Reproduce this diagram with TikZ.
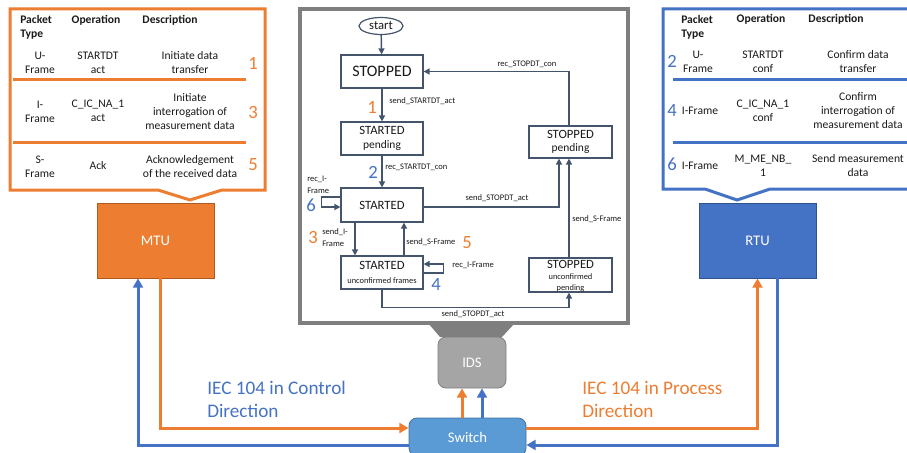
\documentclass[tikz,border=0pt]{standalone}
\usepackage{fontspec}
\setmainfont{Carlito}
\usetikzlibrary{arrows.meta,calc,shapes.geometric}

\definecolor{orangeA}{HTML}{ED7D31}
\definecolor{orangeD}{HTML}{AE5A21}
\definecolor{blueA}{HTML}{4472C4}
\definecolor{blueD}{HTML}{2F528F}
\definecolor{blueS}{HTML}{5B9BD5}
\definecolor{blueSD}{HTML}{41719C}
\definecolor{grayF}{HTML}{7F7F7F}
\definecolor{grayI}{HTML}{A5A5A5}
\definecolor{slate}{HTML}{44546A}
\definecolor{ink}{HTML}{1A1A1A}

\begin{document}
\begin{tikzpicture}[x=0.75pt,y=-0.75pt,
  % table cells
  cell/.style={font=\fontsize{8.7}{10.5}\selectfont, align=center, inner sep=0pt, text=ink},
  head/.style={font=\fontsize{8.7}{10.5}\selectfont\bfseries, inner sep=0pt, text=ink},
  num/.style={font=\fontsize{14}{14}\selectfont, inner sep=0pt},
  % state machine
  state/.style={draw=slate, line width=0.9pt, fill=white, inner sep=0pt, align=center,
                minimum width=61.5pt, minimum height=24.75pt, text=ink},
  big/.style={font=\fontsize{12}{14}\selectfont},
  mid/.style={font=\fontsize{9.5}{11}\selectfont},
  lbl/.style={font=\fontsize{6.4}{8.5}\selectfont, inner sep=0pt, text=ink},
  sm/.style={draw=slate, line width=1.1pt, -{Triangle[length=4.5pt,width=4.5pt]}},
  % devices and links
  dev/.style={inner sep=0pt, text=white, font=\fontsize{11}{13}\selectfont,
              minimum width=87.75pt, minimum height=56.25pt},
  link/.style={line width=2.25pt, -{Triangle[length=7pt,width=7.5pt]}},
  callout/.style={line width=2.25pt, line join=miter}
]
\useasboundingbox (0,0) rectangle (907,453);
\clip (0,0) rectangle (907,453);

% ---------- MTU message table ----------
\draw[callout, orangeA] (10,9) -- (265,9) -- (265,190) -- (222,190) -- (190,200)
  -- (158,190) -- (10,190) -- cycle;
\draw[orangeA, line width=2.25pt] (13,80) -- (246,80);
\draw[orangeA, line width=2.25pt] (13,142) -- (246,142);
\node[head, anchor=west, align=left] (mh1) at (20,27) {Packet\\Type};
\node[head] (mh2) at (96,20) {Operation};
\node[head] (mh3) at (170,20) {Description};
\node[cell] (ma1) at (40,63) {U-\\Frame};
\node[cell] (ma2) at (98,63) {STARTDT\\act};
\node[cell] (ma3) at (190,63) {Initiate data\\transfer};
\node[cell] (mb1) at (40,112) {I-\\Frame};
\node[cell] (mb2) at (98,111) {C\_IC\_NA\_1\\act};
\node[cell] (mb3) at (190,112) {Initiate\\interrogation of\\measurement data};
\node[cell] (mc1) at (40,166.5) {S-\\Frame};
\node[cell] (mc2) at (98,166) {Ack};
\node[cell] (mc3) at (190,166.5) {Acknowledgement\\of the received data};
\node[num, text=orangeA] (mn1) at (253,63) {1};
\node[num, text=orangeA] (mn3) at (253,113) {3};
\node[num, text=orangeA] (mn5) at (253,165) {5};

% ---------- RTU message table ----------
\draw[callout, blueA] (663,9) -- (915,9) -- (915,189) -- (770,189) -- (737,200)
  -- (705,189) -- (663,189) -- cycle;
\draw[blueA, line width=2.25pt] (673,80) -- (910,80);
\draw[blueA, line width=2.25pt] (673,142) -- (910,142);
\node[head, anchor=west, align=left] (rh1) at (681,27) {Packet\\Type};
\node[head] (rh2) at (761,19) {Operation};
\node[head] (rh3) at (836,19) {Description};
\node[cell] (ra1) at (698,62) {U-\\Frame};
\node[cell] (ra2) at (763,62) {STARTDT\\conf};
\node[cell] (ra3) at (858,62) {Confirm data\\transfer};
\node[cell] (rb1) at (700,111) {I-Frame};
\node[cell] (rb2) at (763,111) {C\_IC\_NA\_1\\conf};
\node[cell] (rb3) at (858,111) {Confirm\\interrogation of\\measurement data};
\node[cell] (rc1) at (700,166) {I-Frame};
\node[cell] (rc2) at (763,166) {M\_ME\_NB\_\\1};
\node[cell] (rc3) at (858,166) {Send measurement\\data};
\node[num, text=blueA] (rn2) at (672,61) {2};
\node[num, text=blueA] (rn4) at (672,111) {4};
\node[num, text=blueA] (rn6) at (672,164) {6};

% ---------- IDS state machine ----------
\draw[grayF, line width=3pt, fill=white] (300,9.5) rectangle (628,323);
\fill[grayF] (428,323) -- (515,323) -- (502,337) -- (440,337) -- cycle;

\node[draw=slate, line width=0.9pt, ellipse, inner sep=0pt, minimum width=33pt,
      minimum height=12.75pt, font=\fontsize{9.5}{11}\selectfont, text=ink] (st) at (381,26) {start};
\node[state, big] (S0) at (382,71.5) {STOPPED};
\node[state, mid] (S1) at (382,138.5) {STARTED\\[-1pt]{\fontsize{8.6}{10}\selectfont pending}};
\node[state, mid, minimum height=25.5pt] (S2) at (382,205) {STARTED};
\node[state, mid] (S3) at (382,272.5) {STARTED\\[-1pt]{\fontsize{6.3}{8}\selectfont unconfirmed frames}};
\node[state, mid, minimum width=62.25pt, minimum height=24pt] (S4) at (570.5,142)
  {STOPPED\\[-1pt]{\fontsize{8.6}{10}\selectfont pending}};
\node[state, minimum width=62.25pt, minimum height=25.5pt] (S5) at (570.5,275) {};
\node[inner sep=0pt, align=center, text=ink, font=\fontsize{9.5}{8.3}\selectfont] (S5t) at (570.5,276.5)
  {STOPPED\\{\fontsize{6.3}{8.3}\selectfont unconfirmed}\\{\fontsize{6.3}{8.3}\selectfont pending}};

\draw[sm] (st) -- (S0);
\draw[sm] (S0) -- (S1);
\draw[sm] (S1) -- (S2);
\draw[sm] ($(S2.west)+(0,-8)$) -- ++(-19,0) -- ++(0,10) -- ($(S2.west)+(0,2)$);
\draw[sm] ($(S2.south)+(-27,0)$) -- ($(S3.north)+(-27,0)$);
\draw[sm] ($(S3.north)+(22,0)$) -- ($(S2.south)+(22,0)$);
\draw[sm] ($(S3.east)+(0,0.5)$) -- ++(20,0) -- ++(0,-9) -- ($(S3.east)+(0,-8.5)$);
\draw[sm] ($(S4.north)+(-1.5,0)$) |- (S0.east);
\draw[sm] ($(S2.east)+(0,2)$) -| ($(S4.south)+(-11.5,0)$);
\draw[sm] ($(S5.north)+(-1.5,0)$) -- ($(S4.south)+(-1.5,0)$);
\draw[sm] (S3.south) -- ++(0,18) -| ($(S5.south)+(-1.5,0)$);

\node[lbl, anchor=west] (t1) at (389,101) {send\_STARTDT\_act};
\node[lbl, anchor=west] (t2) at (385,167) {rec\_STARTDT\_con};
\node[lbl, anchor=west, align=left, font=\fontsize{6.4}{9}\selectfont] (t6) at (307,185) {rec\_I-\\Frame};
\node[lbl, anchor=west, align=left] (t3) at (322,237.5) {send\_I-\\Frame};
\node[lbl, anchor=west] (t5) at (406,242) {send\_S-Frame};
\node[lbl, anchor=west] (t4) at (452,265) {rec\_I-Frame};
\node[lbl] (t7) at (527,64.5) {rec\_STOPDT\_con};
\node[lbl] (t8) at (497,198.5) {send\_STOPDT\_act};
\node[lbl, anchor=west] (t9) at (572,219) {send\_S-Frame};
\node[lbl] (t10) at (473,314) {send\_STOPDT\_act};

\node[num, text=orangeA] (n1) at (372,107) {1};
\node[num, text=blueA] (n2) at (373,172) {2};
\node[num, text=orangeA] (n3) at (313,238) {3};
\node[num, text=blueA] (n4) at (436,285) {4};
\node[num, text=orangeA] (n5) at (467,243) {5};
\node[num, text=blueA] (n6) at (311,205) {6};

% ---------- devices ----------
\node[dev, fill=orangeA, draw=orangeD, line width=0.6pt] (MTU) at (155.5,240.5) {MTU};
\node[dev, fill=blueA, draw=blueD, line width=0.6pt] (RTU) at (757.5,240.5) {RTU};
\node[dev, fill=grayI, draw=grayF, line width=0.6pt, rounded corners=6pt,
      minimum width=51pt, minimum height=38.25pt] (IDS) at (472,362.5) {IDS};
\node[dev, fill=blueS, draw=blueSD, line width=0.6pt, rounded corners=6pt,
      minimum width=87.75pt, minimum height=28.5pt] (SW) at (467.5,437) {Switch};

% ---------- links ----------
\draw[link, orangeA] ($(MTU.south)+(4.5,0)$) |- ($(SW.west)+(0,-9)$);
\draw[link, blueA] ($(SW.west)+(0,8)$) -| ($(MTU.south)+(-17.5,0)$);
\draw[link, orangeA] ($(SW.east)+(0,-9)$) -| (RTU.south);
\draw[link, blueA] ($(RTU.south)+(20,0)$) |- ($(SW.east)+(0,8)$);
\draw[link, orangeA] ($(SW.north)+(-5.5,0)$) -- ($(IDS.south)+(-10,0)$);
\draw[link, blueA] ($(SW.north)+(14.5,0)$) -- ($(IDS.south)+(10,0)$);

\node[anchor=west, align=left, inner sep=0pt, text=blueA,
      font=\fontsize{14.4}{17.25}\selectfont] (lc) at (207,399.5) {IEC 104 in Control\\Direction};
\node[anchor=west, align=left, inner sep=0pt, text=orangeA,
      font=\fontsize{14.4}{17.25}\selectfont] (lp) at (582,399.5) {IEC 104 in Process\\Direction};
\end{tikzpicture}
\end{document}
